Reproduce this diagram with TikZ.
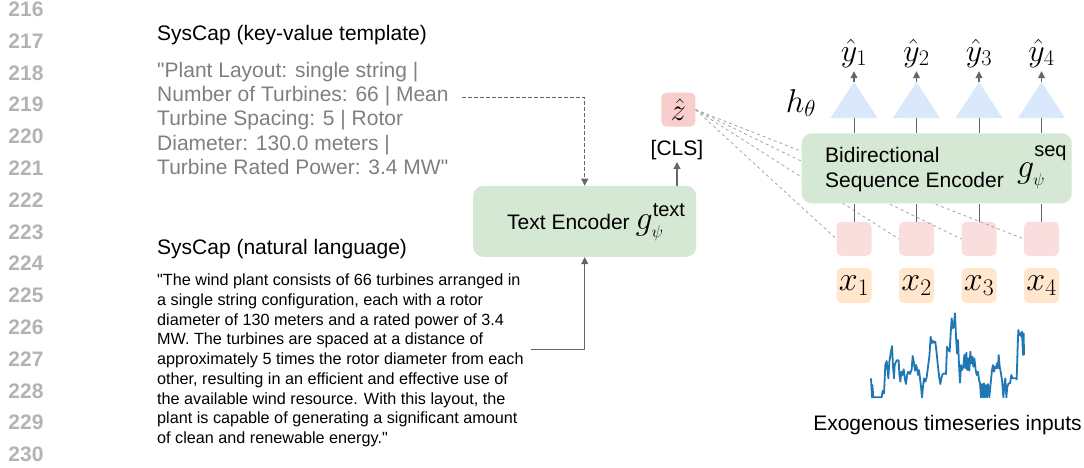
\RequirePackage{fix-cm}
\documentclass[tikz,border=0pt]{standalone}
\usepackage[no-math]{fontspec}
\setmainfont{Liberation Sans}[Ligatures=TeXOff]
\usetikzlibrary{arrows.meta}

\definecolor{encgreen}{HTML}{D5E8D4}
\definecolor{zpink}{HTML}{F8CECC}
\definecolor{embpink}{HTML}{FADEDD}
\definecolor{inorange}{HTML}{FFE6CC}
\definecolor{headblue}{HTML}{DAE8FC}
\definecolor{numgray}{HTML}{B3B3B3}
\definecolor{kvgray}{HTML}{7F7F7F}
\definecolor{linkgray}{HTML}{666666}
\definecolor{fangray}{HTML}{A6A6A6}
\definecolor{seriesblue}{HTML}{1F77B4}

% encoder symbol g_psi with a sans-serif superscript; #2 lifts the superscript
\newcommand{\gsym}[2]{%
  \fontsize{34}{36}\selectfont
  $g_{\mbox{\fontsize{17}{17}\selectfont$\psi$}}^{\mbox{\raisebox{#2}{\fontsize{20}{20}\selectfont #1}}}$}

\begin{document}
\begin{tikzpicture}[x=1pt,y=-1pt,
  lineno/.style={font=\fontsize{21}{21}\selectfont\bfseries, text=numgray, inner sep=0},
  heading/.style={font=\fontsize{21}{25}\selectfont, anchor=base west, inner sep=0},
  kvtext/.style={font=\fontsize{21}{24.3}\selectfont, text=kvgray, align=left, anchor=north west, inner sep=0},
  nltext/.style={font=\fontsize{16.2}{19.75}\selectfont, align=left, anchor=north west, inner sep=0},
  label21/.style={font=\fontsize{21}{25.5}\selectfont, inner sep=0},
  encbox/.style={fill=encgreen, rounded corners=10pt, inner sep=0},
  embbox/.style={fill=embpink, rounded corners=5pt, minimum width=35, minimum height=34, inner sep=0},
  inbox/.style={fill=inorange, rounded corners=5pt, minimum width=35, minimum height=35, inner sep=0},
  conn/.style={draw=linkgray, line width=1.1pt, -{Triangle[length=7pt,width=7pt]}},
  dashconn/.style={conn, dash pattern=on 3.5pt off 2.5pt},
  fan/.style={draw=fangray, line width=0.8pt, dash pattern=on 3pt off 3pt},
  stem/.style={draw=linkgray, line width=1pt},
]
\useasboundingbox (0,0) rectangle (1084,467);

% line numbers in the margin
\foreach \n [count=\i from 0] in {216,...,230}
  \node[lineno] (ln\n) at (26,{9.2+31.8*\i}) {\n};

% captions
\node[heading] (kvtitle) at (157,40.5) {SysCap (key-value template)};
\node[kvtext] (kv) at (157,61.9) {"Plant Layout: single string |\\Number of Turbines: 66 | Mean\\Turbine Spacing: 5 | Rotor\\Diameter: 130.0 meters |\\Turbine Rated Power: 3.4 MW"};

\node[heading] (nltitle) at (157,254) {SysCap (natural language)};
\node[nltext] (nl) at (157,273.7) {"The wind plant consists of 66 turbines arranged in\\a single string configuration, each with a rotor\\diameter of 130 meters and a rated power of 3.4\\MW. The turbines are spaced at a distance of\\approximately 5 times the rotor diameter from each\\other, resulting in an efficient and effective use of\\the available wind resource. With this layout, the\\plant is capable of generating a significant amount\\of clean and renewable energy."};

% text encoder
\node[encbox, minimum width=223, minimum height=71] (textenc) at (584.7,221.4) {};
\node[label21, anchor=base west] (textenclabel) at (507,229) {Text Encoder \gsym{text}{0pt}};
\node[label21, inner sep=2pt] (cls) at (677,150) {[CLS]};
\node[fill=zpink, rounded corners=5pt, minimum size=34, inner sep=0] (zhat) at (678.4,109.7) {\fontsize{31}{31}\selectfont$\hat{z}$};

\coordinate (kvend) at (462,97.7);
\coordinate (nlend) at (531,349.3);
\draw[dashconn] (kvend) -| (textenc.north);
\draw[conn] (nlend) -| (textenc.south);
\draw[conn] (textenc.north -| cls.south) -- (cls.south);

% token embeddings
\foreach \i/\cx in {1/854,2/916.5,3/979,4/1041.5}
  \node[embbox] (emb\i) at (\cx,238.9) {};

% the caption embedding is attached to every token
\foreach \i in {1,...,4}
  \draw[fan] (zhat.east) -- (emb\i.west);

% sequence encoder
\node[encbox, minimum width=270, minimum height=70] (seqenc) at (936.7,168.3) {};
\node[label21, align=left, anchor=north west] (seqlabel) at (825,147) {Bidirectional\\Sequence Encoder};
\node[label21, anchor=base west] (gseq) at (1017,177.5) {\gsym{seq}{9pt}};

\node[inner sep=0, anchor=base] (htheta) at (801,112) {\fontsize{33}{33}\selectfont$h_\theta$};

% per-token inputs, heads and outputs
\foreach \i/\cx in {1/854,2/916.5,3/979,4/1041.5} {
  \node[inbox] (x\i) at (\cx,285.5) {\fontsize{34}{34}\selectfont$x_{\i}$};
  \fill[headblue] ({\cx-23.5},118) -- (\cx,82) -- ({\cx+23.5},118) -- cycle;
  \coordinate (hapex\i) at (\cx,82);
  \coordinate (hbase\i) at (\cx,118);
  \node[inner sep=0, outer sep=4pt, anchor=base] (yhat\i) at (\cx,61) {\fontsize{32}{32}\selectfont$\hat{y}_{\i}$};
  \draw[stem] (emb\i.north) -- (emb\i.north |- seqenc.south);
  \draw[stem] (seqenc.north -| hbase\i) -- (hbase\i);
  \draw[conn] (hapex\i) -- (yhat\i.south);
}

% exogenous time series
\begin{scope}[shift={(860,300)}, scale=1/3]
\draw[seriesblue, line width=1.8pt, line join=round] plot coordinates {
(33,235) (36,292) (37,255) (40,292) (65,292) (68,272) (72,280) (76,195) (80,183) (83,215) (85,235) (88,185) (92,160) (96,138) (99,200) (102,235) (104,195) (108,185) (112,180) (116,182) (118,222) (121,245) (124,215) (128,225) (131,208) (135,240) (138,252) (141,225) (145,215) (150,222) (155,208) (158,168) (162,190) (165,212) (168,195) (171,205) (174,225) (177,210) (180,235) (183,260) (186,292) (189,260) (192,235) (196,245) (200,232) (204,200) (208,170) (212,110) (215,130) (218,122) (222,128) (226,125) (230,160) (234,200) (238,235) (241,252) (244,235) (248,222) (254,220) (258,222) (261,140) (265,150) (269,155) (272,100) (275,55) (278,85) (281,80) (285,40) (288,110) (291,160) (294,120) (297,195) (300,248) (303,195) (306,210) (310,200) (313,165) (316,205) (319,158) (322,210) (325,175) (328,212) (331,155) (334,190) (337,170) (340,200) (343,175) (347,210) (350,225) (354,215) (357,240) (360,250) (363,292) (366,252) (369,292) (372,250) (375,292) (378,255) (381,292) (384,252) (388,292) (392,250) (396,210) (399,195) (402,215) (405,200) (408,205) (411,190) (414,205) (416,165) (419,200) (422,215) (426,240) (430,292) (433,255) (436,235) (439,292) (442,260) (446,250) (450,250) (454,225) (458,235) (462,235) (468,235) (470,238) (473,140) (475,90) (478,105) (481,100) (484,110) (486,95) (489,165) (491,100) (492,165)};
\end{scope}
\node[label21, anchor=base] (exolabel) at (947.5,430) {Exogenous timeseries inputs};

\end{tikzpicture}
\end{document}
